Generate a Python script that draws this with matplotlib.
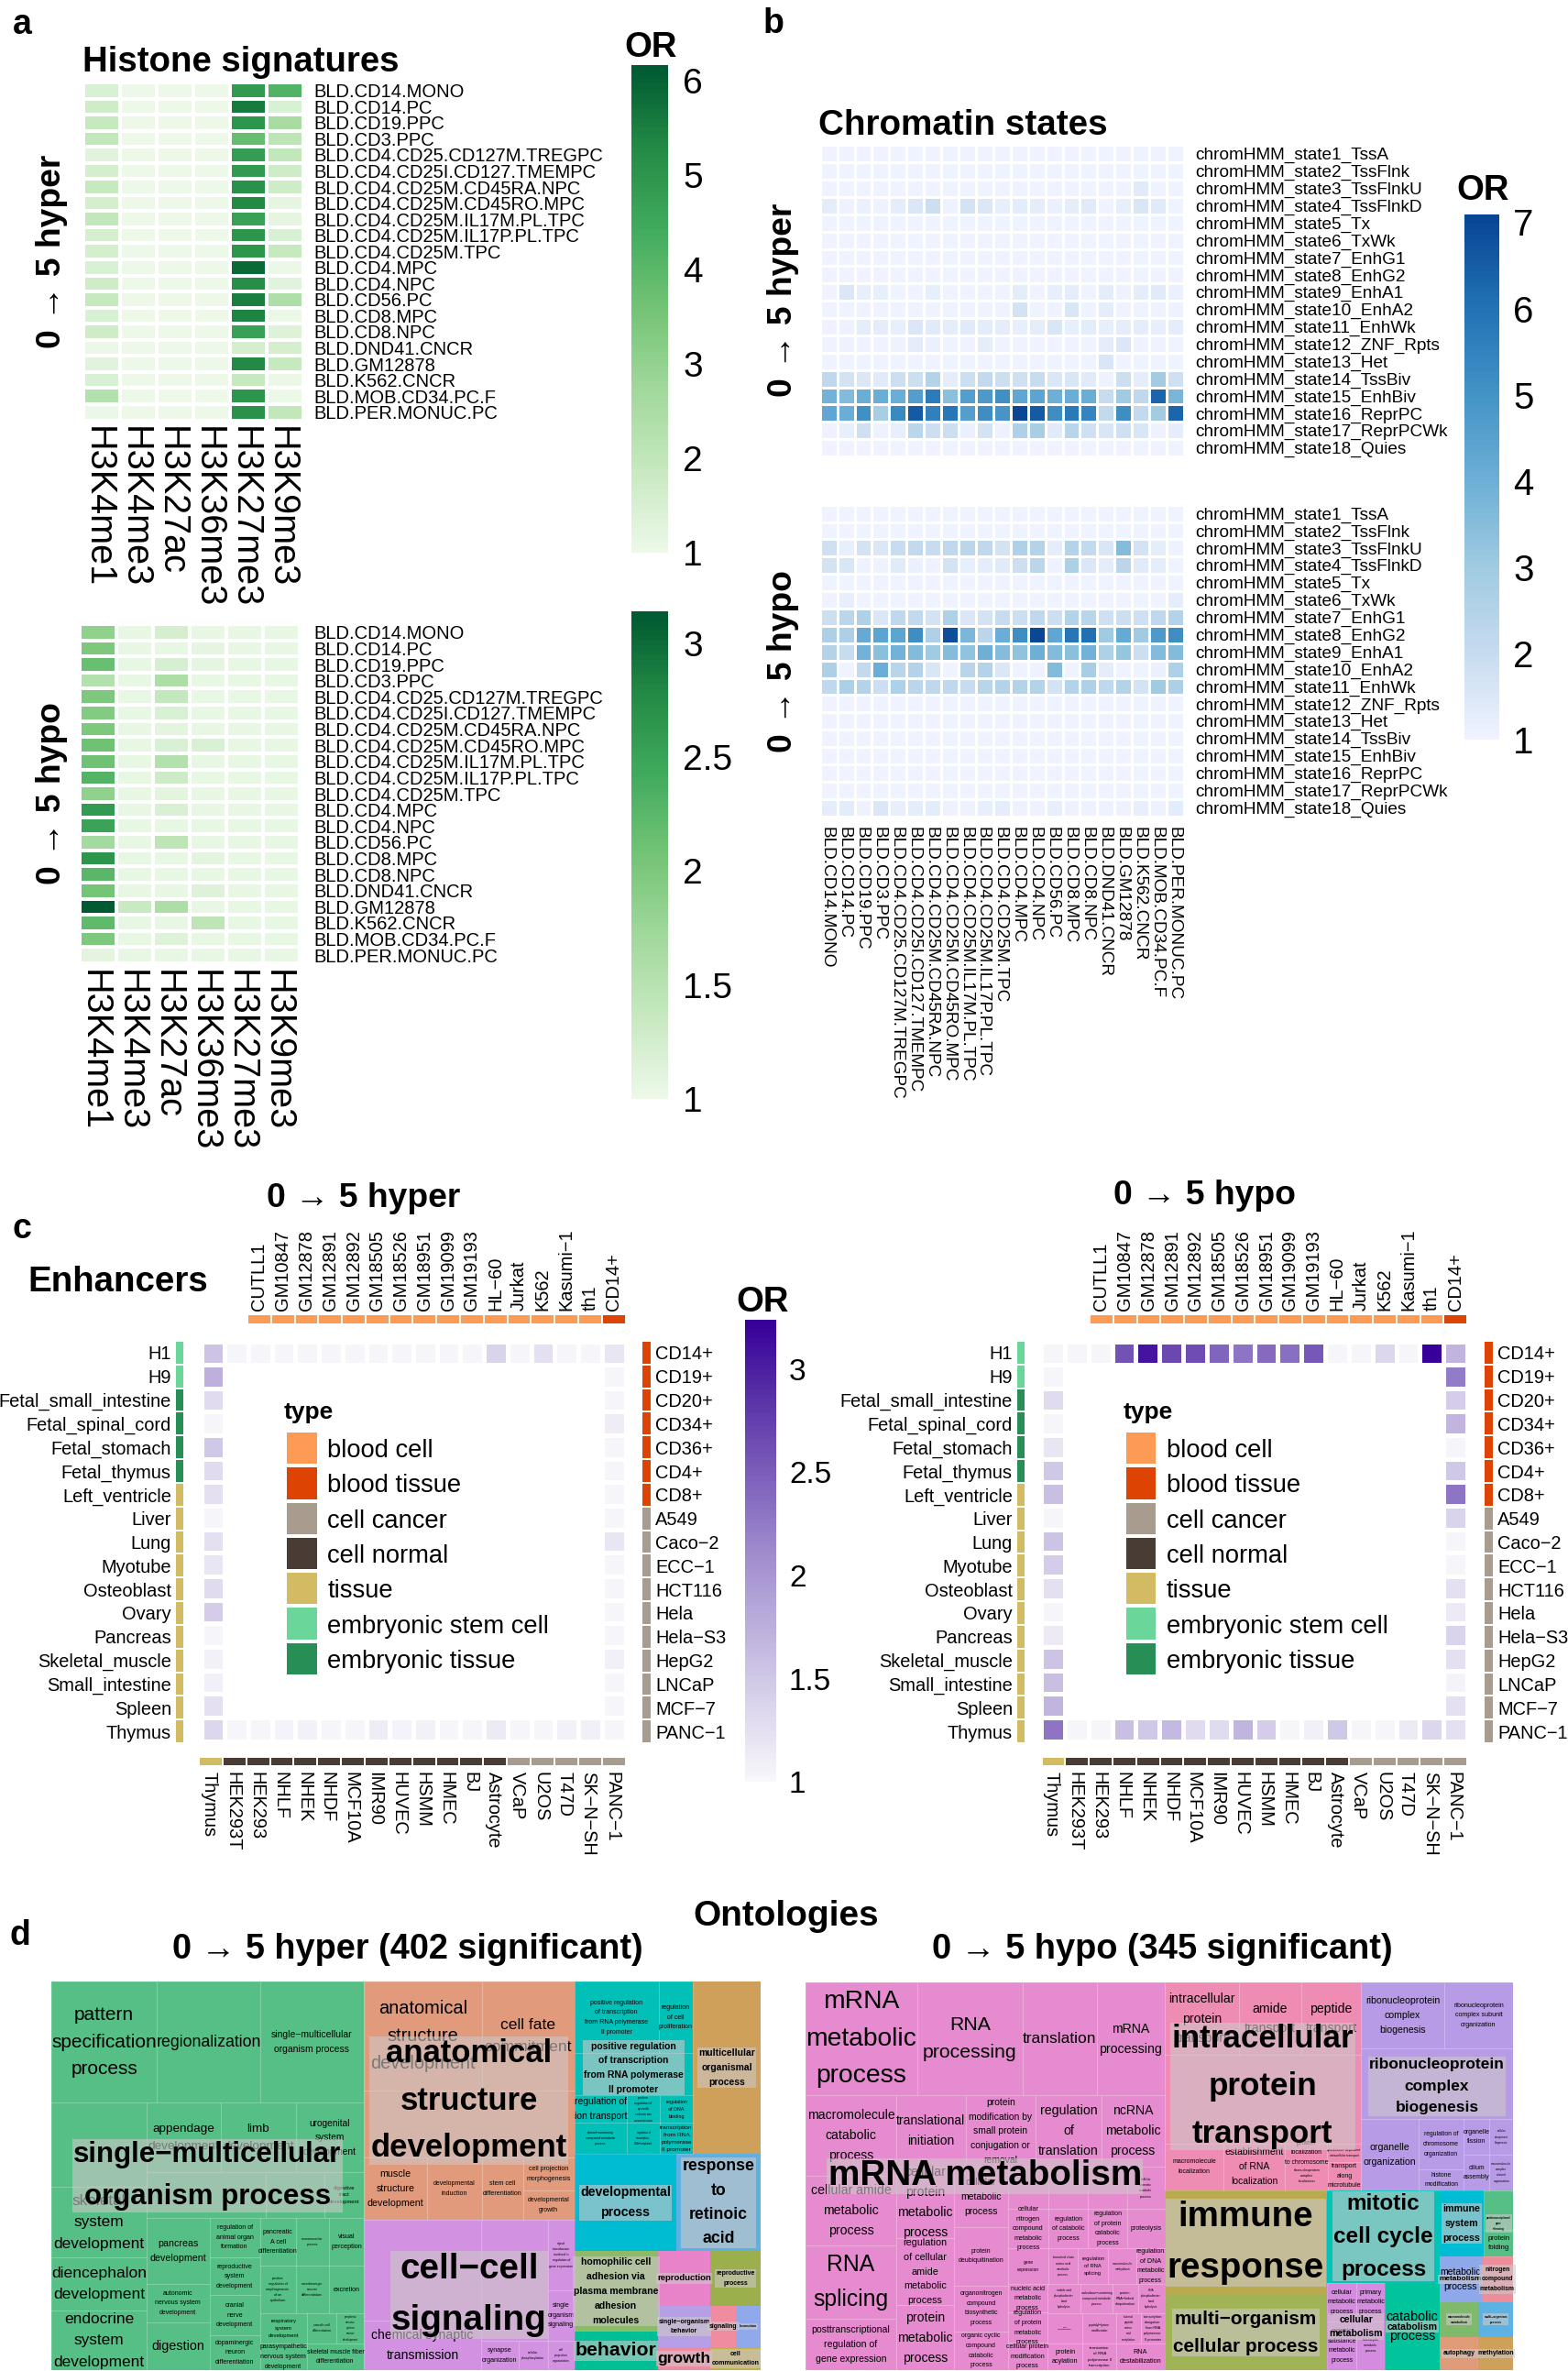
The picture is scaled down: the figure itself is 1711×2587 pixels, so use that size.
import matplotlib
matplotlib.use("Agg")
import matplotlib.pyplot as plt
import numpy as np
from matplotlib.colors import LinearSegmentedColormap, ListedColormap
from matplotlib.font_manager import FontProperties
from matplotlib.patches import Rectangle
from matplotlib.textpath import TextPath

plt.rcParams['font.family'] = ['Liberation Sans', 'DejaVu Sans']

W, H = 1711, 2587

# ---- panel a
histone_marks = ['H3K4me1', 'H3K4me3', 'H3K27ac', 'H3K36me3', 'H3K27me3', 'H3K9me3']
blood_samples = ['BLD.CD14.MONO', 'BLD.CD14.PC', 'BLD.CD19.PPC', 'BLD.CD3.PPC',
                 'BLD.CD4.CD25.CD127M.TREGPC', 'BLD.CD4.CD25I.CD127.TMEMPC',
                 'BLD.CD4.CD25M.CD45RA.NPC', 'BLD.CD4.CD25M.CD45RO.MPC',
                 'BLD.CD4.CD25M.IL17M.PL.TPC', 'BLD.CD4.CD25M.IL17P.PL.TPC',
                 'BLD.CD4.CD25M.TPC', 'BLD.CD4.MPC', 'BLD.CD4.NPC', 'BLD.CD56.PC',
                 'BLD.CD8.MPC', 'BLD.CD8.NPC', 'BLD.DND41.CNCR', 'BLD.GM12878',
                 'BLD.K562.CNCR', 'BLD.MOB.CD34.PC.F', 'BLD.PER.MONUC.PC']
histone_hyper = [
    [1.5, 1.05, 1.05, 1.05, 4.9, 4.2], [1.7, 1.05, 1.05, 1.05, 5.6, 1.5],
    [1.9, 1.05, 1.05, 1.05, 5.0, 2.6], [2.0, 1.05, 1.05, 1.05, 3.8, 2.1],
    [1.3, 1.05, 1.05, 1.05, 4.8, 2.0], [1.6, 1.05, 1.05, 1.05, 4.9, 1.7],
    [1.9, 1.05, 1.05, 1.05, 5.1, 1.7], [1.6, 1.05, 1.05, 1.05, 5.3, 1.2],
    [2.0, 1.05, 1.05, 1.05, 4.7, 1.2], [1.6, 1.05, 1.05, 1.05, 5.0, 1.5],
    [1.6, 1.05, 1.05, 1.05, 5.0, 1.9], [1.5, 1.05, 1.05, 1.05, 5.9, 1.1],
    [1.7, 1.05, 1.05, 1.05, 5.2, 1.3], [1.9, 1.05, 1.05, 1.05, 5.5, 2.4],
    [1.5, 1.05, 1.05, 1.05, 5.4, 1.1], [1.7, 1.05, 1.05, 1.05, 4.7, 1.4],
    [1.1, 1.05, 1.05, 1.05, 1.6, 1.6], [1.3, 1.05, 1.05, 1.05, 5.3, 1.9],
    [1.5, 1.05, 1.05, 1.05, 1.9, 1.1], [2.3, 1.1, 1.05, 1.05, 5.0, 1.1],
    [1.1, 1.05, 1.05, 1.05, 5.1, 2.0]]
histone_hypo = [
    [1.85, 1.05, 1.25, 1.05, 1.05, 1.05], [2.0, 1.05, 1.05, 1.08, 1.05, 1.05],
    [2.15, 1.05, 1.22, 1.08, 1.05, 1.05], [1.55, 1.05, 1.6, 1.05, 1.05, 1.05],
    [2.0, 1.05, 1.4, 1.05, 1.05, 1.05], [1.95, 1.05, 1.2, 1.05, 1.05, 1.05],
    [2.0, 1.05, 1.1, 1.05, 1.05, 1.05], [2.1, 1.05, 1.2, 1.2, 1.05, 1.05],
    [2.1, 1.05, 1.55, 1.05, 1.05, 1.05], [2.3, 1.05, 1.3, 1.05, 1.05, 1.05],
    [1.85, 1.05, 1.1, 1.05, 1.05, 1.05], [2.6, 1.05, 1.2, 1.05, 1.05, 1.05],
    [2.5, 1.05, 1.05, 1.05, 1.05, 1.05], [1.7, 1.05, 1.45, 1.05, 1.05, 1.05],
    [2.65, 1.05, 1.05, 1.1, 1.05, 1.05], [2.25, 1.05, 1.05, 1.05, 1.05, 1.05],
    [2.05, 1.05, 1.05, 1.15, 1.05, 1.05], [3.14, 1.35, 1.6, 1.05, 1.05, 1.05],
    [2.2, 1.05, 1.05, 1.45, 1.05, 1.05], [2.0, 1.05, 1.15, 1.05, 1.05, 1.05],
    [1.1, 1.05, 1.05, 1.05, 1.05, 1.05]]

# ---- panel b
chrom_states = ['chromHMM_state1_TssA', 'chromHMM_state2_TssFlnk', 'chromHMM_state3_TssFlnkU',
                'chromHMM_state4_TssFlnkD', 'chromHMM_state5_Tx', 'chromHMM_state6_TxWk',
                'chromHMM_state7_EnhG1', 'chromHMM_state8_EnhG2', 'chromHMM_state9_EnhA1',
                'chromHMM_state10_EnhA2', 'chromHMM_state11_EnhWk', 'chromHMM_state12_ZNF_Rpts',
                'chromHMM_state13_Het', 'chromHMM_state14_TssBiv', 'chromHMM_state15_EnhBiv',
                'chromHMM_state16_ReprPC', 'chromHMM_state17_ReprPCWk', 'chromHMM_state18_Quies']
state_hyper = [
    [1, 1, 1, 1, 1, 1, 1, 1, 1, 1, 1, 1, 1, 1, 1, 1, 1, 1, 1, 1, 1],
    [1, 1, 1, 1, 1, 1, 1, 1, 1, 1, 1, 1, 1, 1, 1, 1, 1, 1, 1, 1, 1],
    [1, 1, 1, 1, 1, 1, 1, 1, 1, 1, 1, 1, 1, 1, 1, 1, 1, 1, 1.4, 1, 1],
    [1.3, 1.1, 1.15, 1.1, 1.3, 1.5, 1.9, 1.1, 1.7, 1.5, 1.2, 1.35, 1.3, 1.15, 1.3, 1.4, 1.05, 1.2, 1.6, 1.4, 1.05],
    [1, 1, 1, 1, 1, 1, 1, 1, 1, 1, 1, 1, 1, 1, 1, 1, 1, 1, 1, 1, 1],
    [1, 1, 1, 1, 1, 1, 1, 1, 1, 1, 1, 1, 1, 1, 1, 1, 1, 1, 1, 1, 1],
    [1, 1, 1, 1, 1, 1, 1, 1, 1, 1, 1, 1, 1, 1, 1, 1, 1, 1, 1, 1, 1],
    [1, 1, 1, 1, 1, 1, 1, 1, 1, 1, 1, 1, 1, 1, 1, 1, 1, 1, 1, 1, 1],
    [1.05, 1.5, 1.2, 1.2, 1.05, 1.05, 1.2, 1.05, 1.05, 1.05, 1.05, 1.25, 1.05, 1.2, 1.3, 1.05, 1.25, 1.1, 1.25, 1.4, 1.15],
    [1.05, 1.05, 1.05, 1.05, 1.05, 1.05, 1.05, 1.05, 1.05, 1.05, 1.05, 1.7, 1.05, 1.05, 1.55, 1.05, 1.25, 1.05, 1.05, 1.05, 1.1],
    [1.1, 1.1, 1.3, 1.3, 1.2, 1.5, 1.4, 1.3, 1.4, 1.35, 1.3, 1.2, 1.3, 1.55, 1.2, 1.35, 1.2, 1.25, 1.25, 1.2, 1.3],
    [1.05, 1.1, 1.05, 1.05, 1.1, 1.3, 1.15, 1.05, 1.05, 1.3, 1.05, 1.05, 1.05, 1.05, 1.05, 1.05, 1.3, 1.5, 1.05, 1.05, 1.05],
    [1.05, 1.05, 1.05, 1.05, 1.05, 1.05, 1.05, 1.05, 1.05, 1.05, 1.05, 1.05, 1.05, 1.05, 1.05, 1.05, 1.6, 1.05, 1.05, 1.05, 1.05],
    [2.2, 1.7, 1.5, 1.4, 1.9, 1.9, 2.5, 1.3, 1.9, 2.1, 1.9, 1.8, 2.0, 1.5, 1.6, 1.4, 1.1, 1.9, 1.3, 2.9, 1.8],
    [3.9, 3.6, 4.1, 4.1, 4.1, 4.6, 5.7, 3.4, 4.6, 4.8, 5.1, 4.3, 4.4, 4.0, 4.1, 4.1, 2.0, 3.0, 2.2, 6.3, 3.8],
    [4.3, 4.1, 5.1, 2.8, 5.3, 6.6, 5.6, 5.9, 4.6, 5.2, 4.9, 7.0, 6.6, 5.2, 5.8, 5.5, 2.1, 5.2, 2.1, 2.9, 6.3],
    [1.1, 1.2, 1.8, 1.1, 1.2, 2.3, 1.9, 1.9, 1.15, 1.7, 1.1, 2.6, 2.8, 1.4, 2.4, 1.8, 1.6, 1.8, 1.6, 1.1, 1.3],
    [1, 1, 1, 1, 1, 1, 1, 1, 1, 1, 1, 1, 1, 1, 1, 1, 1, 1, 1, 1, 1]]
state_hypo = [
    [1, 1, 1, 1, 1, 1, 1, 1, 1, 1, 1, 1, 1, 1, 1, 1, 1, 1, 1, 1, 1],
    [1, 1, 1, 1, 1, 1, 1, 1, 1, 1, 1, 1, 1, 1, 1, 1, 1, 1, 1, 1, 1],
    [1.8, 1.2, 1.7, 1.5, 2.0, 2.1, 2.0, 2.2, 2.3, 2.2, 1.7, 2.6, 2.5, 1.3, 2.5, 2.1, 1.6, 3.5, 1.7, 1.3, 1.1],
    [1.7, 1.6, 1.1, 1.1, 1.4, 1.15, 1.1, 1.7, 1.2, 1.3, 1.4, 1.9, 2.3, 1.1, 2.7, 1.5, 1.3, 2.3, 1.4, 1.3, 1.05],
    [1, 1, 1, 1, 1, 1, 1, 1, 1, 1, 1, 1, 1, 1, 1, 1, 1, 1, 1, 1, 1],
    [1.1, 1.2, 1.05, 1.05, 1.05, 1.05, 1.05, 1.05, 1.05, 1.05, 1.05, 1.05, 1.05, 1.05, 1.05, 1.05, 1.05, 1.05, 1.05, 1.05, 1.25],
    [1.9, 2.3, 2.6, 1.5, 2.2, 2.1, 1.7, 2.6, 1.5, 1.7, 2.0, 1.9, 2.2, 1.9, 2.5, 2.4, 1.8, 1.9, 1.8, 2.2, 2.5],
    [2.7, 2.7, 4.2, 4.4, 4.4, 5.2, 2.6, 6.9, 3.7, 2.3, 4.1, 5.2, 7.0, 4.3, 5.9, 6.1, 3.0, 4.2, 3.0, 4.8, 5.2],
    [2.5, 2.0, 3.9, 3.4, 3.9, 3.6, 3.0, 3.5, 3.3, 4.0, 3.5, 3.3, 4.0, 3.6, 3.4, 3.9, 2.6, 3.2, 1.9, 3.6, 3.6],
    [2.7, 1.05, 2.1, 4.1, 2.4, 2.5, 1.6, 1.05, 2.4, 2.5, 1.5, 1.05, 1.1, 3.6, 1.05, 2.8, 1.3, 1.05, 1.05, 1.15, 2.6],
    [2.2, 2.7, 2.5, 1.9, 2.6, 2.3, 2.2, 2.2, 2.0, 2.4, 2.5, 2.5, 2.5, 1.7, 2.5, 2.6, 2.2, 2.5, 1.7, 3.0, 2.7],
    [1, 1, 1, 1, 1, 1, 1, 1, 1, 1, 1, 1, 1, 1, 1, 1, 1, 1, 1, 1, 1],
    [1, 1, 1, 1, 1, 1, 1, 1, 1, 1, 1, 1, 1.03, 1, 1, 1, 1, 1, 1, 1, 1],
    [1, 1, 1, 1, 1, 1, 1, 1, 1, 1, 1, 1, 1, 1, 1, 1, 1, 1, 1, 1, 1],
    [1, 1, 1, 1, 1, 1, 1, 1, 1, 1, 1, 1, 1, 1, 1, 1, 1, 1, 1, 1, 1],
    [1, 1, 1, 1, 1, 1, 1, 1, 1, 1, 1, 1, 1, 1, 1, 1, 1, 1, 1, 1, 1],
    [1, 1, 1, 1, 1, 1, 1, 1, 1, 1, 1, 1, 1, 1, 1, 1, 1, 1, 1, 1, 1],
    [1.3, 1.35, 1.1, 1.5, 1.2, 1.3, 1.35, 1.1, 1.1, 1.2, 1.25, 1.1, 1.1, 1.2, 1.1, 1.1, 1.1, 1.1, 1.2, 1.1, 1.35]]

# ---- panel c
type_names = ['blood cell', 'blood tissue', 'cell cancer', 'cell normal', 'tissue',
              'embryonic stem cell', 'embryonic tissue']
type_colors = ['#FD9A56', '#DD4302', '#A89C8F', '#483C34', '#D2BB62', '#6BD699', '#278E55']
top_cells = ['CUTLL1', 'GM10847', 'GM12878', 'GM12891', 'GM12892', 'GM18505', 'GM18526', 'GM18951',
             'GM19099', 'GM19193', 'HL−60', 'Jurkat', 'K562', 'Kasumi−1', 'th1', 'CD14+']
top_types = [0, 0, 0, 0, 0, 0, 0, 0, 0, 0, 0, 0, 0, 0, 0, 1]
bottom_cells = ['Thymus', 'HEK293T', 'HEK293', 'NHLF', 'NHEK', 'NHDF', 'MCF10A', 'IMR90', 'HUVEC',
                'HSMM', 'HMEC', 'BJ', 'Astrocyte', 'VCaP', 'U2OS', 'T47D', 'SK−N−SH', 'PANC−1']
bottom_types = [4, 3, 3, 3, 3, 3, 3, 3, 3, 3, 3, 3, 3, 2, 2, 2, 2, 2]
left_cells = ['H1', 'H9', 'Fetal_small_intestine', 'Fetal_spinal_cord', 'Fetal_stomach', 'Fetal_thymus',
              'Left_ventricle', 'Liver', 'Lung', 'Myotube', 'Osteoblast', 'Ovary', 'Pancreas',
              'Skeletal_muscle', 'Small_intestine', 'Spleen', 'Thymus']
left_types = [5, 5, 6, 6, 6, 6, 4, 4, 4, 4, 4, 4, 4, 4, 4, 4, 4]
right_cells = ['CD14+', 'CD19+', 'CD20+', 'CD34+', 'CD36+', 'CD4+', 'CD8+', 'A549', 'Caco−2', 'ECC−1',
               'HCT116', 'Hela', 'Hela−S3', 'HepG2', 'LNCaP', 'MCF−7', 'PANC−1']
right_types = [1, 1, 1, 1, 1, 1, 1, 2, 2, 2, 2, 2, 2, 2, 2, 2, 2]

enh_hyper_top = [1.55, 1.03, 1.03, 1.03, 1.03, 1.03, 1.03, 1.03, 1.03, 1.03, 1.03, 1.03, 1.4, 1.03, 1.25, 1.03, 1.03, 1.2]
enh_hyper_left = [1.55, 1.75, 1.3, 1.03, 1.5, 1.3, 1.25, 1.03, 1.25, 1.18, 1.3, 1.45, 1.03, 1.08, 1.1, 1.25, 1.35]
enh_hyper_right = [1.2, 1.03, 1.03, 1.12, 1.04, 1.04, 1.04, 1.04, 1.2, 1.03, 1.03, 1.03, 1.03, 1.1, 1.03, 1.03, 1.03]
enh_hyper_bottom = [1.35, 1.03, 1.03, 1.05, 1.08, 1.03, 1.03, 1.12, 1.06, 1.07, 1.03, 1.03, 1.15, 1.03, 1.03, 1.08, 1.1, 1.03]
enh_hypo_top = [1.03, 1.03, 1.03, 2.6, 3.1, 2.7, 2.65, 2.45, 2.3, 2.4, 2.35, 2.55, 1.03, 1.03, 1.35, 1.03, 3.24, 1.7]
enh_hypo_left = [1.03, 1.03, 1.3, 1.03, 1.2, 1.5, 1.6, 1.03, 1.55, 1.45, 1.25, 1.03, 1.15, 1.55, 1.6, 1.7, 2.3]
enh_hypo_right = [1.7, 2.25, 1.45, 1.7, 1.03, 1.5, 2.3, 1.4, 1.03, 1.03, 1.25, 1.15, 1.4, 1.25, 1.06, 1.25, 1.25]
enh_hypo_bottom = [2.3, 1.03, 1.03, 1.6, 1.5, 1.65, 1.3, 1.3, 1.7, 1.45, 1.03, 1.1, 1.5, 1.03, 1.03, 1.15, 1.35, 1.25]


# ---- panel d, sizes are the tile extents
def L(size, text='', w=0):
    return dict(size=size, text=text, w=w, kids=None)


def S(size, kids):
    return dict(size=size, text='', w=0, kids=kids)


def G(size, color, title, w, kids=None, text='', tw=0):
    return dict(size=size, color=color, title=title, tw=w, text=text, w=tw, kids=kids)


onto_hyper = S(1, [
    G(668, '#55BF85', 'single−multicellular\norganism process', 570, [
        S(397, [L(226, 'pattern\nspecification\nprocess', 222), L(220, 'regionalization', 220),
                L(222, 'single−multicellular\norganism process', 172)]),
        S(875, [
            S(204, [L(276), L(230, 'skeletal\nsystem\ndevelopment', 192),
                    L(175, 'diencephalon\ndevelopment', 200),
                    L(194, 'endocrine\nsystem\ndevelopment', 192)]),
            S(464, [
                S(228, [L(158, 'appendage\ndevelopment', 150), L(160, 'limb\ndevelopment', 150),
                        L(146, 'urogenital\nsystem\ndevelopment', 113)]),
                S(148, [L(254), L(125), L(85, 'digestive\ntract\ndevelopment', 65)]),
                S(499, [
                    S(134, [L(217, 'pancreas\ndevelopment', 118),
                            L(125, 'autonomic\nnervous system\ndevelopment', 95),
                            L(157, 'digestion', 110)]),
                    S(108, [L(130, 'regulation of\nanimal organ\nformation', 80),
                            L(124, 'reproductive\nsystem\ndevelopment', 78),
                            L(131, 'cranial\nnerve\ndevelopment', 78),
                            L(114, 'dopaminergic\nneuron\ndifferentiation', 82)]),
                    S(222, [
                        S(158, [L(76, 'pancreatic\nA cell\ndifferentiation', 82),
                                L(71, 'neuromuscular\nprocess', 45), L(75, 'visual\nperception', 65)]),
                        S(154, [L(76, 'positive\nregulation of\nmorphogenesis\nof an\nepithelium', 50),
                                L(71, 'noradrenergic\nneuron\ndifferentiation', 44), L(75, 'excretion', 55)]),
                        S(100, [L(100, 'respiratory\nsystem\ndevelopment', 65),
                                L(64, 'smooth cell\ndifferentiation', 40),
                                L(58, 'peripheral\nnervous\nsystem\nneuron\ndevelopment', 32)]),
                        S(87, [L(100, 'parasympathetic\nnervous system\ndevelopment', 100),
                               L(122, 'skeletal muscle fiber\ndifferentiation', 122)]),
                    ]),
                ]),
            ]),
        ]),
    ]),
    S(450, [
        G(780, '#E19B7C', 'anatomical\nstructure\ndevelopment', 417, [S(1, [
            S(356, [L(252, 'anatomical\nstructure\ndevelopment', 222),
                    L(198, 'cell fate\ncommitment', 185)]),
            S(219, [L(450)]),
            S(205, [L(135, 'muscle\nstructure\ndevelopment', 118),
                    L(117, 'developmental\ninduction', 88),
                    L(88, 'stem cell\ndifferentiation', 82),
                    S(110, [L(110, 'cell projection\nmorphogenesis', 93),
                            L(95, 'developmental\ngrowth', 88)])]),
        ])]),
        G(492, '#D391E2', 'cell−cell\nsignaling', 325, [
            S(250, [L(330), L(162, 'chemical synaptic\ntransmission', 215)]),
            S(200, [
                S(395, [L(143), S(57, [L(230, 'signal\ntransduction\ninvolved in\nregulation of\ngene expression', 50),
                                       L(165, 'single\norganism\nsignaling', 55)])]),
                S(97, [L(80, 'synapse\norganization', 75),
                       L(63, 'cellular\nphosphorylation', 48),
                       L(57, 'cell\nprojection\norganization', 36)]),
            ]),
        ]),
    ]),
    S(398, [
        S(565, [
            G(253, '#00C0B8', 'positive regulation\nof transcription\nfrom RNA polymerase\nII promoter', 213, [
                S(235, [L(180, 'positive regulation\nof transcription\nfrom RNA polymerase\nII promoter', 133),
                        L(73, 'regulation\nof cell\nproliferation', 70)]),
                S(138, [L(253)]),
                S(90, [L(112, 'regulation of\nion transport', 112),
                       L(71, 'positive\nregulation of\ncytosolic\ncalcium ion\nconcentration', 40),
                       L(70, 'regulation\nof DNA\nbinding', 45)]),
                S(102, [L(112, 'phenol−containing\ncompound metabolic\nprocess', 62),
                        L(71, 'regulation of\ntranscription,\nDNA−templated', 38),
                        L(70, 'transcription\nfrom RNA\npolymerase\nII promoter', 68)]),
            ]),
            G(145, '#CFA05A', 'multicellular\norganismal\nprocess', 118),
        ]),
        S(318, [
            G(218, '#00BCD3', 'developmental\nprocess', 190),
            G(180, '#5CB1E2', 'response\nto\nretinoic\nacid', 150),
        ]),
        S(389, [
            S(178, [
                G(262, '#8CBB67', 'homophilic cell\nadhesion via\nplasma membrane\nadhesion\nmolecules', 178),
                G(127, '#00BF96', 'behavior', 170),
            ]),
            S(220, [
                S(178, [G(113, '#E883C9', 'reproduction', 112), G(107, '#9BAF4C', 'reproductive\nprocess', 82)]),
                S(136, [G(113, '#B79FE8', 'single−organism\nbehavior', 108),
                        G(54, '#EF8CA0', 'signaling', 58), G(53, '#8FA9EA', 'locomotion', 38)]),
                S(75, [G(113, '#EB8CA3', 'growth', 110), G(107, '#C4AF50', 'cell\ncommunication', 100)]),
            ]),
        ]),
    ]),
])

onto_hypo = S(1, [
    G(767, '#E68BCF', 'mRNA metabolism', 660, [
        S(370, [L(238, 'mRNA\nmetabolic\nprocess', 232), L(226, 'RNA\nprocessing', 196),
                L(158, 'translation', 155), L(145, 'mRNA\nprocessing', 130)]),
        S(899, [
            S(194, [L(262, 'macromolecule\ncatabolic\nprocess', 183),
                    L(228, 'cellular amide\nmetabolic\nprocess', 168),
                    L(242, 'RNA\nsplicing', 157),
                    L(167, 'posttranscriptional\nregulation of\ngene expression', 165)]),
            S(573, [
                S(234, [L(148, 'translational\ninitiation', 145),
                        L(150, 'protein\nmodification by\nsmall protein\nconjugation or\nremoval', 135),
                        L(140, 'regulation\nof\ntranslation', 125),
                        L(135, 'ncRNA\nmetabolic\nprocess', 115)]),
                S(665, [
                    S(124, [L(233, 'cellular\nprotein\nmetabolic\nprocess', 115),
                            L(220, 'regulation\nof cellular\namide\nmetabolic\nprocess', 90),
                            L(212, 'protein\nmetabolic\nprocess', 115)]),
                    S(114, [L(196, 'cellular\nmetabolic\nprocess', 85),
                            L(192, 'protein\ndeubiquitination', 95),
                            L(150, 'organonitrogen\ncompound\nbiosynthetic\nprocess', 90),
                            L(127, 'organic cyclic\ncompound\ncatabolic\nprocess', 82)]),
                    S(335, [
                        S(138, [L(87), L(85), L(83), L(80, 'cellular\naromatic\ncatabolic\nprocess', 28)]),
                        S(128, [L(87, 'cellular\nnitrogen\ncompound\nmetabolic\nprocess', 65),
                                L(85, 'regulation\nof catabolic\nprocess', 68),
                                L(83, 'regulation\nof protein\ncatabolic\nprocess', 58),
                                L(80, 'proteolysis', 65)]),
                        S(118, [L(87, 'gene\nexpression', 45),
                                L(63, 'branched chain\namino acid\nmetabolic\nprocess', 45),
                                L(65, 'regulation\nof RNA\nsplicing', 48),
                                L(60, 'macromolecule\nmethylation', 42),
                                L(60, 'regulation\nof DNA\nmetabolic\nprocess', 60)]),
                        S(281, [
                            S(85, [L(96, 'nucleic acid\nmetabolic\nprocess', 70),
                                   L(104, 'regulation\nof protein\nmetabolic\nprocess', 58),
                                   L(92, 'cellular protein\nmodification\nprocess', 88)]),
                            S(250, [
                                S(94, [L(70, 'mobile acid\nphosphodiester\nbond\nhydrolysis', 42),
                                       L(70, 'nucleobase−containing\ncompound metabolic\nprocess', 68),
                                       L(53, 'protein\nRNA−linked\nubiquitination', 42),
                                       L(57, 'RNA\nphosphodiester\nbond\nhydrolysis', 42)]),
                                S(100, [L(75, 'DNA\nrecombination', 30),
                                        L(72, 'peptidyl−lysine\nmodification', 45),
                                        L(53, 'internal\npeptide\namino\nacid\nacetylation', 30),
                                        L(50, 'transcription\nelongation\nfrom RNA\npolymerase\nII promoter', 40)]),
                                S(87, [L(75, 'protein\nacylation', 55),
                                       L(72, 'termination\nof RNA\npolymerase II\ntranscription', 50),
                                       L(103, 'RNA\ndestabilization', 88)]),
                            ]),
                        ]),
                    ]),
                ]),
            ]),
        ]),
    ]),
    S(745, [
        S(680, [
            G(420, '#EE8CB4', 'intracellular\nprotein\ntransport', 383, [
                S(237, [L(160, 'intracellular\nprotein\ntransport', 138),
                        L(132, 'amide\ntransport', 108), L(128, 'peptide\ntransport', 108)]),
                S(290, [L(420)]),
                S(153, [L(127, 'macromolecule\nlocalization', 92),
                        L(131, 'establishment\nof RNA\nlocalization', 125),
                        S(162, [
                            S(60, [L(90, 'protein\nlocalization\nto chromosome', 92),
                                   L(72, 'cytoskeleton−dependent\nintracellular transport', 72)]),
                            S(93, [L(92, 'ribonucleoprotein\ncomplex\nlocalization', 55),
                                   L(70, 'transport\nalong\nmicrotubule', 70)]),
                        ])]),
            ]),
            G(325, '#B79BE6', 'ribonucleoprotein\ncomplex\nbiogenesis', 285, [
                S(215, [L(178, 'ribonucleoprotein\ncomplex\nbiogenesis', 155),
                        L(147, 'ribonucleoprotein\ncomplex subunit\norganization', 105)]),
                S(232, [L(325)]),
                S(233, [L(123, 'organelle\norganization', 110),
                        S(97, [L(165, 'regulation of\nchromosome\norganization', 75),
                               L(68, 'histone\nmodification', 70)]),
                        S(105, [
                            S(117, [L(55, 'organelle\nfission', 55),
                                    L(50, 'cellular\ncomponent\nbiogenesis', 28)]),
                            S(116, [L(55, 'cilium\nassembly', 55),
                                    L(50, 'macromolecule\ncomplex\nsubunit\norganization', 42)]),
                        ])]),
            ]),
        ]),
        S(589, [
            S(348, [
                G(344, '#B9A94F', 'immune\nresponse', 328),
                G(245, '#A0B455', 'multi−organism\ncellular process', 306),
            ]),
            S(240, [
                G(304, '#00C4B8', 'mitotic\ncell cycle\nprocess', 208),
                S(285, [
                    G(123, '#D58BE0', 'cellular\nmetabolism', 112, [
                        S(125, [L(62, 'cellular\nmetabolic\nprocess', 60), L(61, 'primary\nmetabolic\nprocess', 60)]),
                        S(160, [L(62, 'organic\nsubstance\nmetabolic\nprocess', 60),
                                L(61, 'heterocycle\nmetabolic\nprocess', 34)]),
                    ]),
                    G(117, '#00C49B', 'catabolism', 105, None, 'catabolic\nprocess', 108),
                ]),
            ]),
            S(157, [
                S(218, [G(95, '#00BCD4', 'immune\nsystem\nprocess', 78),
                        G(62, '#55BF85', 'posttranscriptional\ngene\nsilencing', 50, [
                            L(130), L(88, 'protein\nfolding', 45)])]),
                S(148, [G(90, '#8FA8EA', 'metabolism', 88, None, 'metabolic\nprocess', 85),
                        G(67, '#EC8D9A', 'nitrogen\ncompound\nmetabolism', 72)]),
                S(114, [G(83, '#7FBA6C', 'macromolecule\nmetabolism', 48),
                        G(74, '#5CB3E3', 'multi−organism\nprocess', 48)]),
                S(109, [G(83, '#E09C78', 'autophagy', 68), G(74, '#CDA15A', 'methylation', 75)]),
            ]),
        ]),
    ]),
])


# ---- helpers
def fit_pt(s, width_px, weight='normal'):
    fp = FontProperties(family='Liberation Sans', weight=weight)
    em = max(TextPath((0, 0), line, size=1, prop=fp).get_extents().width for line in s.split('\n') if line)
    return width_px / em * 0.72


def ramp(colors):
    return LinearSegmentedColormap.from_list('ramp', colors, N=100)


greens = ramp(['#EDF8E9', '#C7E9C0', '#A1D99B', '#74C476', '#41AB5D', '#238B45', '#005A32'])
blues = ramp(['#EFF3FF', '#C6DBEF', '#9ECAE1', '#6BAED6', '#4292C6', '#2171B5', '#084594'])
purples = ramp(['#F8F7FB', '#DAD4EC', '#BDB0DD', '#9E8BCD', '#7D5FBB', '#5A33A8', '#37009A'])
type_cmap = ListedColormap(type_colors)

fig = plt.figure(figsize=(W / 100, H / 100), dpi=100)
page = fig.add_axes([0, 0, 1, 1])
page.set_xlim(0, W)
page.set_ylim(H, 0)
page.axis('off')
page.set_zorder(10)


def box(x0, y0, x1, y1):
    return fig.add_axes([x0 / W, 1 - y1 / H, (x1 - x0) / W, (y1 - y0) / H])


def down_labels(ax, labels, fs):
    # labels read downwards, glyphs centred on the column
    ax.set_xticks(np.arange(len(labels)) + .5, labels, fontsize=fs, rotation=-90,
                  rotation_mode='anchor', ha='left', va='center_baseline')


def heat(rect, vals, cmap, vmax, lw, rows, cols, row_fs, col_fs, row_pad, col_pad):
    ax = box(*rect)
    m = np.ma.masked_invalid(np.array(vals, dtype=float))
    ax.pcolormesh(m, cmap=cmap, vmin=1, vmax=vmax, edgecolors='white', linewidth=lw)
    ax.invert_yaxis()
    ax.yaxis.tick_right()
    ax.set_yticks(np.arange(len(rows)) + .5, rows, fontsize=row_fs)
    down_labels(ax, cols, col_fs)
    ax.tick_params(length=0, axis='y', pad=row_pad)
    ax.tick_params(length=0, axis='x', pad=col_pad)
    for s in ax.spines.values():
        s.set_visible(False)
    return ax


def colorbar(rect, cmap, vmax, ticks, labels, fs, pad):
    ax = box(*rect)
    grad = np.linspace(1, vmax, 100).reshape(-1, 1)
    ax.imshow(grad, cmap=cmap, vmin=1, vmax=vmax, aspect='auto', origin='lower', extent=(0, 1, 1, vmax))
    ax.set_xticks([])
    ax.yaxis.tick_right()
    ax.set_yticks(ticks, labels, fontsize=fs)
    ax.tick_params(length=0, pad=pad)
    for s in ax.spines.values():
        s.set_visible(False)


def bold(x, y, s, width, ha='left', va='baseline', rotation=0):
    page.text(x, y, s, fontsize=fit_pt(s, width, 'bold'), fontweight='bold', ha=ha, va=va, rotation=rotation)


def strip(rect, types, labels, side, fs=14.4, pad=3):
    ax = box(*rect)
    arr = np.array(types)
    if side in ('top', 'bottom'):
        arr = arr.reshape(1, -1)
    else:
        arr = arr.reshape(-1, 1)
    ax.pcolormesh(arr, cmap=type_cmap, vmin=-.5, vmax=6.5, edgecolors='white', linewidth=1.2)
    ax.invert_yaxis()
    ax.set_xticks([])
    ax.set_yticks([])
    if side == 'top':
        ax.xaxis.tick_top()
        ax.set_xticks(np.arange(len(labels)) + .5, labels, fontsize=fs, rotation=90)
    elif side == 'bottom':
        down_labels(ax, labels, fs)
    elif side == 'left':
        ax.set_yticks(np.arange(len(labels)) + .5, labels, fontsize=fs)
    else:
        ax.yaxis.tick_right()
        ax.set_yticks(np.arange(len(labels)) + .5, labels, fontsize=fs)
    ax.tick_params(length=0, pad=pad)
    for s in ax.spines.values():
        s.set_visible(False)


def enhancer_panel(dx, mx0, mx1, top_x0, bot_x0, lx, rx, vals):
    top, left, right, bottom = vals
    m = np.full((17, 18), np.nan)
    m[:, 0] = left
    m[:, -1] = right
    m[0, :] = top
    m[-1, :] = bottom
    ax = box(mx0, 1463.5, mx1, 1899.5)
    ax.pcolormesh(np.ma.masked_invalid(m), cmap=purples, vmin=1, vmax=3.24, edgecolors='white', linewidth=2.2)
    ax.invert_yaxis()
    ax.axis('off')
    strip((top_x0, 1434, mx1, 1445), top_types, top_cells, 'top')
    strip((bot_x0, 1917, mx1, 1927), bottom_types, bottom_cells, 'bottom', pad=4)
    strip((lx, 1463, lx + 10, 1902), left_types, left_cells, 'left')
    strip((rx, 1463, rx + 11, 1902), right_types, right_cells, 'right')
    # legend
    page.text(dx + 310, 1548, 'type', fontsize=19, fontweight='bold')
    leg = box(dx + 311, 1561, dx + 347.5, 1829)
    leg.pcolormesh(np.arange(7).reshape(-1, 1), cmap=type_cmap, vmin=-.5, vmax=6.5,
                   edgecolors='white', linewidth=1.5)
    leg.invert_yaxis()
    leg.set_xticks([])
    leg.yaxis.tick_right()
    leg.set_yticks(np.arange(7) + .5, type_names, fontsize=19.7)
    leg.tick_params(length=0, pad=7)
    for s in leg.spines.values():
        s.set_visible(False)


def draw_tree(ax, node, x0, y0, x1, y1, horiz, titles):
    if 'color' in node:
        ax.add_patch(Rectangle((x0, y0), x1 - x0, y1 - y0, fc=node['color'], ec='none', zorder=1))
        titles.append((node, (x0 + x1) / 2, (y0 + y1) / 2))
    elif node['kids'] is None:
        ax.add_patch(Rectangle((x0, y0), x1 - x0, y1 - y0, fc='none', ec=(1, 1, 1, .14), lw=.8, zorder=2))
    if node['text']:
        ax.text((x0 + x1) / 2, (y0 + y1) / 2, node['text'], ha='center', va='center', ma='center',
                fontsize=fit_pt(node['text'], node['w'] / 1.96), linespacing=1.72, zorder=3)
    if node['kids']:
        total = sum(k['size'] for k in node['kids'])
        pos = 0
        for k in node['kids']:
            a = pos / total
            b = (pos + k['size']) / total
            pos += k['size']
            if horiz:
                draw_tree(ax, k, x0 + (x1 - x0) * a, y0, x0 + (x1 - x0) * b, y1, False, titles)
            else:
                draw_tree(ax, k, x0, y0 + (y1 - y0) * a, x1, y0 + (y1 - y0) * b, True, titles)


def treemap(rect, tree):
    ax = box(*rect)
    ax.set_xlim(rect[0], rect[2])
    ax.set_ylim(rect[3], rect[1])
    ax.axis('off')
    titles = []
    draw_tree(ax, tree, rect[0], rect[1], rect[2], rect[3], True, titles)
    for node, cx, cy in titles:
        s = node['title']
        ax.text(cx, cy, s, ha='center', va='center', ma='center', fontweight='bold',
                fontsize=fit_pt(s, node['tw'] / 1.96, 'bold'), linespacing=1.72, zorder=5,
                bbox=dict(fc=(205 / 255, 200 / 255, 200 / 255), alpha=.6, ec='none', pad=1))


# ---- a
heat((91, 90, 331, 458.5), histone_hyper, greens, 6.17, 2.8, blood_samples, histone_marks, 14.5, 28.5, 8.5, 5)
heat((87, 681, 326.5, 1051), histone_hypo, greens, 3.14, 2.8, blood_samples, histone_marks, 14.5, 28.5, 11.5, 5)
colorbar((689, 70.5, 728.5, 603), greens, 6.17, [1, 2, 3, 4, 5, 6], ['1', '2', '3', '4', '5', '6'], 28, 12)
colorbar((689, 667, 728.5, 1199), greens, 3.14, [1, 1.5, 2, 2.5, 3], ['1', '1.5', '2', '2.5', '3'], 28, 12)
page.text(14, 37, 'a', fontsize=27, fontweight='bold')
bold(90, 78, 'Histone signatures', 341)
bold(681, 62, 'OR', 55)
bold(57, 274, '0 → 5 hyper', 209, ha='center', va='center', rotation=90)
bold(57, 866, '0 → 5 hypo', 196, ha='center', va='center', rotation=90)

# ---- b
heat((894.7, 158.3, 1292, 498), state_hyper, blues, 7.09, 2, chrom_states, [], 13.7, 13.7, 9, 3)
heat((894.7, 550.7, 1292, 890.7), state_hypo, blues, 7.09, 2, chrom_states, blood_samples, 13.7, 13.7, 9, 8)
colorbar((1598, 234, 1636, 807), blues, 7.09, [1, 2, 3, 4, 5, 6, 7], ['1', '2', '3', '4', '5', '6', '7'], 29, 11)
page.text(833, 36, 'b', fontsize=27, fontweight='bold')
bold(893, 147, 'Chromatin states', 312)
bold(1589, 218, 'OR', 55)
bold(855, 327, '0 → 5 hyper', 209, ha='center', va='center', rotation=90)
bold(855, 722, '0 → 5 hypo', 196, ha='center', va='center', rotation=90)

# ---- c
page.text(14, 1351, 'c', fontsize=27, fontweight='bold')
bold(30, 1409, 'Enhancers', 193)
bold(291, 1317, '0 → 5 hyper', 209)
bold(1215, 1314, '0 → 5 hypo', 196)
enhancer_panel(0, 219.5, 682.5, 270, 217, 191, 700,
               (enh_hyper_top, enh_hyper_left, enh_hyper_right, enh_hyper_bottom))
enhancer_panel(915.5, 1136, 1601, 1189, 1136.5, 1109, 1619,
               (enh_hypo_top, enh_hypo_left, enh_hypo_right, enh_hypo_bottom))
colorbar((813, 1440, 847, 1944), purples, 3.24, [1, 1.5, 2, 2.5, 3], ['1', '1.5', '2', '2.5', '3'], 24, 10)
bold(803, 1431, 'OR', 55)

# ---- d
page.text(11, 2122, 'd', fontsize=27, fontweight='bold')
bold(756, 2101, 'Ontologies', 199)
bold(188, 2137, '0 → 5 hyper (402 significant)', 511)
bold(1017, 2137, '0 → 5 hypo (345 significant)', 500)
treemap((56, 2162, 830, 2586), onto_hyper)
treemap((879, 2163, 1651, 2586), onto_hypo)

fig.savefig('out.png', dpi=100)
